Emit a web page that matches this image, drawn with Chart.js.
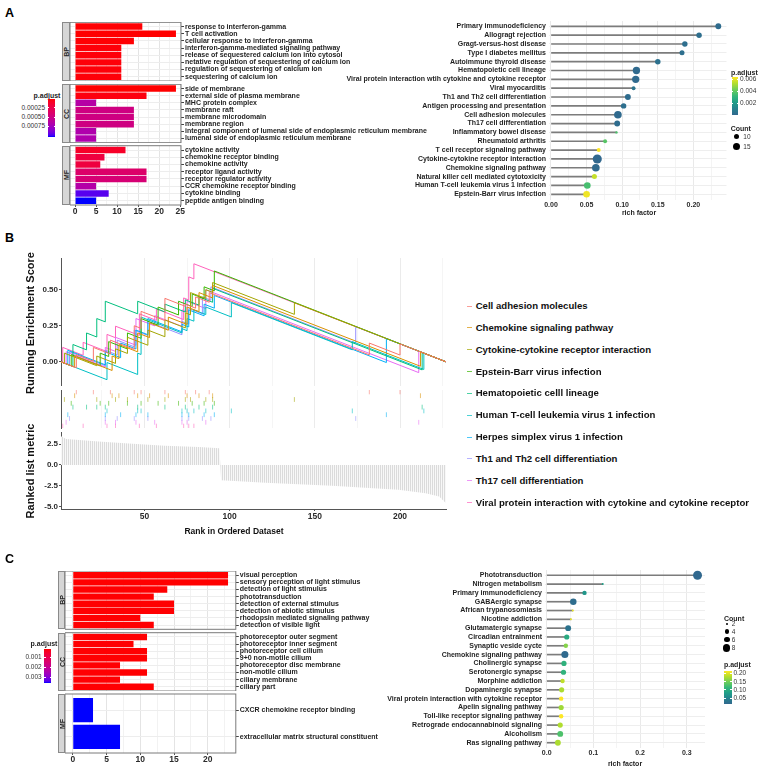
<!DOCTYPE html>
<html>
<head>
<meta charset="utf-8">
<script src="https://cdn.jsdelivr.net/npm/chart.js@4.4.1/dist/chart.umd.min.js"></script>
<style>
  html, body { margin: 0; padding: 0; background: #fff; }
  #fig { position: relative; width: 758px; height: 767px; overflow: hidden; font-family: "Liberation Sans", Arial, sans-serif; color: #1f1f1f; }
  .t { position: absolute; white-space: nowrap; line-height: 1; }
</style>
</head>
<body>
<div id="fig"></div>
<script>
// =============================
// DATA : panel A, GO enrichment (bar count, p.adjust)
// =============================
const aBpTerms = ["response to interferon-gamma", "T cell activation", "cellular response to interferon-gamma",
  "interferon-gamma-mediated signaling pathway", "release of sequestered calcium ion into cytosol",
  "netative regulation of sequestering of calcium ion", "regulation of sequestering of calcium ion",
  "sequestering of calcium ion"];
const aBpCount = [16, 24, 14, 11, 11, 11, 11, 11];
const aBpPadj = [0.00001, 0.000005, 0.00001, 0.00002, 0.00002, 0.00002, 0.00002, 0.00002];

const aCcTerms = ["side of membrane", "external side of plasma membrane", "MHC protein complex", "membrane raft",
  "membrane microdomain", "membrane region", "integral component of lumenal side of endoplasmic reticulum membrane",
  "lumenal side of endoplasmic reticulum membrane"];
const aCcCount = [24, 17, 5, 14, 14, 14, 5, 5];
const aCcPadj = [0.000005, 0.00003, 0.00065, 0.00049, 0.00049, 0.00049, 0.00068, 0.00068];

const aMfTerms = ["cytokine activity", "chemokine receptor binding", "chemokine activity", "receptor ligand activity",
  "receptor regulator activity", "CCR chemokine receptor binding", "cytokine binding", "peptide antigen binding"];
const aMfCount = [12, 7, 6, 17, 17, 5, 8, 5];
const aMfPadj = [0.0001, 0.00019, 0.00019, 0.00038, 0.00043, 0.00066, 0.00097, 0.00104];

// panel A, KEGG lollipop
const keggATerms = ["Primary immunodeficiency", "Allogragt rejection", "Gragt-versus-host disease",
  "Type I diabetes mellitus", "Autoimmune thyroid disease", "Hematopoietic cell lineage",
  "Viral protein interaction wtih cytokine and cytokine receptor", "Viral myocarditis",
  "Th1 and Th2 cell differentiation", "Antigen processing and presentation", "Cell adhesion molecules",
  "Th17 cell differentiation", "Inflammatory bowel disease", "Rheumatoid arthritis",
  "T cell receptor signaling pathway", "Cytokine-cytokine receptor interaction", "Chemokine signaling pathway",
  "Natural killer cell mediated cytotoxicity", "Human T-cell leukemia virus 1 infection", "Epstein-Barr virus infection"];
const keggARich = [0.235, 0.208, 0.188, 0.184, 0.150, 0.120, 0.119, 0.116, 0.108, 0.102,
  0.094, 0.093, 0.092, 0.076, 0.067, 0.065, 0.063, 0.061, 0.051, 0.050];
const keggACount = [12, 11, 11, 10, 11, 16, 16, 8, 12, 11, 17, 12, 6, 8, 8, 22, 17, 10, 14, 14];
const keggAPadj = [0.0002, 0.0003, 0.0003, 0.0003, 0.0004, 0.0001, 0.0001, 0.0005, 0.0002, 0.0003,
  0.0001, 0.0002, 0.0036, 0.0038, 0.0063, 0.00002, 0.0001, 0.0055, 0.0035, 0.0061];

// =============================
// DATA : panel B, GSEA
// =============================
const gseaSets = ["Cell adhesion molecules", "Chemokine signaling pathway", "Cytokine-cytokine receptor interaction",
  "Epstein-Barr virus infection", "Hematopoietic celll lineage", "Human T-cell leukemia virus 1 infection",
  "Herpes simplex virus 1 infection", "Th1 and Th2 cell differentiation", "Th17 cell differentiation",
  "Viral protein interaction with cytokine and cytokine receptor"];

// running enrichment score, [rank, score] corners of each step line
const esCellAdhesion = [[1,0],[10,-0.041],[10,0.05],[20,0.004],[20,0.1],[30,0.054],[30,0.15],[44,0.086],[44,0.25],[48,0.232],[48,0.35],[62,0.286],[62,0.44],[74,0.385],[74,0.4],[80,0.372],[80,0.45],[88,0.413],[88,0.48],[182,0.048],[182,0.13],[200,0.047],[200,0.124],[227,0]];
const esChemokine = [[1,0],[9,-0.037],[9,0.04],[31,-0.06],[31,0.04],[35,0.022],[35,0.12],[46,0.069],[46,0.2],[53,0.168],[53,0.27],[64,0.219],[64,0.31],[75,0.259],[75,0.38],[82,0.348],[82,0.48],[90,0.443],[90,0.53],[212,-0.031],[212,0.069],[227,0]];
const esCytokine = [[1,0],[3,-0.01],[3,0.06],[22,-0.027],[22,0.04],[33,-0.011],[33,0.09],[40,0.058],[40,0.17],[52,0.115],[52,0.22],[62,0.174],[62,0.29],[74,0.235],[74,0.34],[77,0.326],[77,0.48],[86,0.439],[86,0.5],[90,0.482],[90,0.55],[138,0.329],[138,0.41],[227,0]];
const esEbv = [[1,0],[7,-0.028],[7,0.05],[24,-0.028],[24,0.06],[29,0.037],[29,0.14],[40,0.089],[40,0.2],[48,0.163],[48,0.3],[58,0.254],[58,0.38],[70,0.325],[70,0.42],[78,0.383],[78,0.47],[85,0.438],[85,0.52],[91,0.492],[91,0.63],[227,0]];
const esHematopoietic = [[1,0],[8,-0.032],[8,0.12],[16,0.083],[16,0.2],[22,0.172],[22,0.3],[27,0.277],[27,0.42],[46,0.333],[46,0.42],[62,0.346],[62,0.4],[74,0.345],[74,0.43],[82,0.393],[82,0.45],[90,0.413],[90,0.51],[213,-0.056],[213,0.064],[227,0]];
const esHtlv = [[1,0],[28,-0.124],[28,-0.005],[46,-0.088],[46,0.06],[48,0.051],[48,0.31],[72,0.2],[72,0.23],[75,0.216],[75,0.3],[79,0.282],[79,0.36],[86,0.328],[86,0.38],[101,0.311],[101,0.41],[172,0.083],[172,0.14],[214,-0.053],[214,0.06],[227,0]];
const esHerpes = [[1,0],[5,-0.018],[5,0.08],[27,-0.021],[27,0.07],[36,0.029],[36,0.13],[45,0.089],[45,0.22],[52,0.188],[52,0.3],[72,0.208],[72,0.26],[76,0.242],[76,0.36],[85,0.319],[85,0.4],[91,0.372],[91,0.46],[192,-0.005],[192,0.161],[227,0]];
const esTh1Th2 = [[1,0],[6,-0.023],[6,0.07],[27,-0.027],[27,0.08],[34,0.048],[34,0.15],[44,0.104],[44,0.22],[52,0.183],[52,0.28],[72,0.188],[72,0.28],[76,0.262],[76,0.37],[84,0.333],[84,0.45],[89,0.427],[89,0.52],[174,0.129],[174,0.244],[227,0]];
const esTh17 = [[1,0],[4,-0.014],[4,0.07],[27,-0.036],[27,0.1],[33,0.072],[33,0.17],[45,0.115],[45,0.3],[56,0.249],[56,0.32],[72,0.246],[72,0.36],[75,0.346],[75,0.42],[86,0.369],[86,0.5],[211,-0.075],[211,0.074],[227,0]];
const esViral = [[1,0],[2,0],[2,0.10],[14,0.045],[14,0.135],[28,0.071],[28,0.19],[33,0.167],[33,0.247],[47,0.183],[47,0.333],[57,0.287],[57,0.367],[73,0.293],[73,0.443],[76,0.429],[76,0.589],[79,0.575],[79,0.68],[227,0]];

// ranked list metric, breakpoints
const metricRank = [1, 4, 23, 43, 62, 82, 94, 95, 121, 160, 199, 215, 223, 227];
const metricValue = [3.45, 3.1, 2.8, 2.55, 2.3, 2.15, 2.0, -1.85, -2.15, -2.5, -3.0, -3.4, -3.8, -4.6];

// =============================
// DATA : panel C
// =============================
const cBpTerms = ["visual perception", "sensory perception of light stimulus", "detection of light stimulus",
  "phototransduction", "detection of external stimulus", "detection of abiotic stimulus",
  "rhodopsin mediated signaling pathway", "detection of visible light"];
const cBpCount = [23, 23, 14, 12, 15, 15, 10, 12];
const cBpPadj = [0.00017, 0.00017, 0.00018, 0.00018, 0.00018, 0.00018, 0.00018, 0.00018];

const cCcTerms = ["photoreceptor outer segment", "photoreceptor inner segment", "photoreceptor cell cilium",
  "9+0 non-motile cilium", "photoreceptor disc membrane", "non-motile cilium", "ciliary membrane", "ciliary part"];
const cCcCount = [11, 9, 11, 11, 7, 11, 7, 12];
const cCcPadj = [0.00018, 0.00018, 0.00018, 0.00018, 0.00018, 0.00018, 0.00018, 0.00018];

const cMfTerms = ["CXCR chemokine receptor binding", "extracellular matrix structural constituent"];
const cMfCount = [3, 7];
const cMfPadj = [0.00354, 0.00354];

const keggCTerms = ["Phototransduction", "Nitrogen metabolism", "Primary immunodeficiency", "GABAergic synapse",
  "African trypanosomiasis", "Nicotine addiction", "Glutamatergic synapse", "Circadian entrainment",
  "Synaptic veside cycte", "Chemokine signaling pathway", "Cholinergic synapse", "Serotonergic synapse",
  "Morphine addiction", "Dopaminergic synapse", "Viral protein interaction with cytokine receptor",
  "Apelin signaling pathway", "Toll-like receptor signaling pathway", "Retrograde endocannabinoid signaling",
  "Alcoholism", "Ras signaling pathway"];
const keggCRich = [0.323, 0.120, 0.081, 0.057, 0.056, 0.052, 0.046, 0.043, 0.041, 0.039,
  0.037, 0.036, 0.034, 0.032, 0.031, 0.031, 0.031, 0.029, 0.029, 0.024];
const keggCCount = [12, 2, 4, 7, 2, 2, 6, 5, 4, 8, 5, 5, 4, 5, 4, 5, 4, 5, 6, 6];
const keggCPadj = [0.016, 0.085, 0.073, 0.022, 0.205, 0.205, 0.03, 0.098, 0.16, 0.018,
  0.108, 0.11, 0.187, 0.178, 0.215, 0.172, 0.215, 0.18, 0.13, 0.178];

// =============================
// STYLE
// =============================
const hue = ["#F8766D", "#D89000", "#A3A500", "#39B600", "#00BF7D", "#00BFC4", "#00B0F6", "#9590FF", "#E76BF3", "#FF62BC"];
const esPaths = [esCellAdhesion, esChemokine, esCytokine, esEbv, esHematopoietic, esHtlv, esHerpes, esTh1Th2, esTh17, esViral];

const fig = document.getElementById("fig");
Chart.defaults.font.family = '"Liberation Sans", Arial, sans-serif';
Chart.defaults.color = "#222";

// colour ramps
function hexRgb(h) { return [1, 3, 5].map(i => parseInt(h.substr(i, 2), 16)); }
function toLab(h) {
  const [r, g, b] = hexRgb(h).map(c => { c /= 255; return c <= 0.04045 ? c / 12.92 : Math.pow((c + 0.055) / 1.055, 2.4); });
  const X = (0.4124 * r + 0.3576 * g + 0.1805 * b) / 0.95047;
  const Y = 0.2126 * r + 0.7152 * g + 0.0722 * b;
  const Z = (0.0193 * r + 0.1192 * g + 0.9505 * b) / 1.08883;
  const f = t => t > 0.008856 ? Math.cbrt(t) : 7.787 * t + 16 / 116;
  return [116 * f(Y) - 16, 500 * (f(X) - f(Y)), 200 * (f(Y) - f(Z))];
}
function fromLab(L, a, b) {
  const fy = (L + 16) / 116, fx = fy + a / 500, fz = fy - b / 200;
  const fi = t => t * t * t > 0.008856 ? t * t * t : (t - 16 / 116) / 7.787;
  const X = 0.95047 * fi(fx), Y = fi(fy), Z = 1.08883 * fi(fz);
  const lin = [3.2406 * X - 1.5372 * Y - 0.4986 * Z, -0.9689 * X + 1.8758 * Y + 0.0415 * Z, 0.0557 * X - 0.2040 * Y + 1.0570 * Z];
  return "rgb(" + lin.map(c => {
    const v = c <= 0.0031308 ? 12.92 * c : 1.055 * Math.pow(c, 1 / 2.4) - 0.055;
    return Math.round(Math.min(1, Math.max(0, v)) * 255);
  }).join(",") + ")";
}
const labRed = toLab("#ff0000"), labBlue = toLab("#0000ff");
function redBlue(t) {
  t = Math.min(1, Math.max(0, t));
  return fromLab(...labRed.map((v, i) => v + (labBlue[i] - v) * t));
}
const virStops = ["#31688E", "#26828E", "#1F9E89", "#35B779", "#6DCD59", "#B4DE2C", "#FDE725"].map(hexRgb);
function viridis(t) {
  t = Math.min(1, Math.max(0, t));
  const s = t * (virStops.length - 1);
  const i = Math.min(Math.floor(s), virStops.length - 2), f = s - i;
  const a = virStops[i], b = virStops[i + 1];
  return "rgb(" + a.map((v, k) => Math.round(v + (b[k] - v) * f)).join(",") + ")";
}
function rangeOf(arrs) {
  const all = [].concat(...arrs);
  return [Math.min(...all), Math.max(...all)];
}
function withAlpha(hex, a) {
  return "rgba(" + hexRgb(hex).join(",") + "," + a + ")";
}

// =============================
// HELPERS
// =============================
function text(x, y, str, o = {}) {
  const d = document.createElement("div");
  d.className = "t";
  d.textContent = str;
  const ax = o.align === "right" ? "-100%" : o.align === "center" ? "-50%" : "0";
  d.style.left = x + "px";
  d.style.top = y + "px";
  d.style.fontSize = (o.size || 7) + "px";
  d.style.fontWeight = o.bold === false ? "normal" : "bold";
  d.style.color = o.color || "#1f1f1f";
  d.style.transform = "translate(" + ax + ",-50%)" + (o.rot ? " rotate(" + o.rot + "deg)" : "");
  fig.appendChild(d);
}

function rect(x, y, w, h, css) {
  const d = document.createElement("div");
  d.style.cssText = "position:absolute;left:" + x + "px;top:" + y + "px;width:" + w + "px;height:" + h + "px;" + css;
  fig.appendChild(d);
  return d;
}

function strip(x, y, w, h, label) {
  rect(x, y, w, h, "background:#d6d6d6;box-sizing:border-box;border:1px solid #8a8a8a;");
  text(x + w / 2, y + h / 2, label, { size: 7, align: "center", rot: -90, color: "#262626" });
}

// gradient legend: colourAt(f) gives colour at fraction f from the top
function colorbar(x, y, w, h, colourAt, ticks, labelX, labelAlign) {
  const stops = [];
  for (let i = 0; i <= 24; i++) stops.push(colourAt(i / 24) + " " + (i / 24 * 100).toFixed(1) + "%");
  rect(x, y, w, h, "background:linear-gradient(to bottom," + stops.join(",") + ");");
  ticks.forEach(([f, lab]) => {
    const ty = y + f * h;
    rect(x, ty - 0.5, 1.5, 1, "background:#fff;");
    rect(x + w - 1.5, ty - 0.5, 1.5, 1, "background:#fff;");
    text(labelX, ty, lab, { size: 6.5, bold: false, align: labelAlign, color: "#333" });
  });
}

function dot(x, y, r, colour) {
  rect(x - r, y - r, 2 * r, 2 * r, "border-radius:50%;background:" + colour + ";");
}

const panelBox = {
  id: "panelBox",
  afterDraw(chart, args, opts) {
    if (!opts || !opts.color) return;
    const a = chart.chartArea, c = chart.ctx;
    c.save();
    c.strokeStyle = opts.color;
    c.lineWidth = 1;
    c.strokeRect(a.left, a.top, a.right - a.left, a.bottom - a.top);
    c.restore();
  }
};
Chart.register(panelBox);

// canvas at box, chart area exactly at area ([x, y, w, h] in page pixels)
function makeChart(box, area, cfg) {
  const cv = document.createElement("canvas");
  cv.width = box[2];
  cv.height = box[3];
  cv.style.cssText = "position:absolute;left:" + box[0] + "px;top:" + box[1] + "px;width:" + box[2] + "px;height:" + box[3] + "px";
  fig.appendChild(cv);
  const side = {
    left: area[0] - box[0],
    top: area[1] - box[1],
    right: box[0] + box[2] - area[0] - area[2],
    bottom: box[1] + box[3] - area[1] - area[3]
  };
  const pad = Object.assign({}, side);
  Object.values(cfg.options.scales).forEach(s => {
    if (s.display === false) return;
    const pos = s.position;
    pad[pos] = 0;
    s.afterFit = sc => {
      if (sc.isHorizontal()) sc.height = side[pos]; else sc.width = side[pos];
      sc.paddingLeft = sc.paddingRight = sc.paddingTop = sc.paddingBottom = 0;
    };
  });
  cfg.options.layout = { padding: pad };
  cfg.options.responsive = false;
  cfg.options.maintainAspectRatio = false;
  cfg.options.animation = false;
  cfg.options.events = [];
  cfg.options.plugins = Object.assign({ legend: { display: false }, tooltip: { enabled: false } }, cfg.options.plugins || {});
  return new Chart(cv, cfg);
}

const isMul = (v, m) => Math.abs(v / m - Math.round(v / m)) < 1e-6;

// =============================
// GO FACET (horizontal bars)
// =============================
function goFacet(box, area, terms, counts, padj, fillOf, xMin, xMax, showX) {
  return makeChart(box, area, {
    type: "bar",
    data: {
      datasets: [{
        data: counts.map((v, i) => ({ x: v, y: i })),
        backgroundColor: padj.map(fillOf),
        barPercentage: 0.9,
        categoryPercentage: 1,
        borderWidth: 0
      }]
    },
    options: {
      indexAxis: "y",
      scales: {
        x: {
          type: "linear", position: "bottom", min: xMin, max: xMax, offset: false,
          ticks: {
            display: showX, stepSize: 2.5, includeBounds: false, autoSkip: false, maxRotation: 0, padding: 0,
            font: { size: 8.5, weight: "bold" }, color: "#2b2b2b",
            callback: v => (isMul(v, 5) ? String(v) : "")
          },
          grid: {
            color: c => (c.tick && isMul(c.tick.value, 5) ? "#e4e4e4" : "#f2f2f2"),
            drawTicks: showX, tickLength: 2,
            tickColor: c => (c.tick && isMul(c.tick.value, 5) ? "#555" : "rgba(0,0,0,0)")
          },
          border: { display: false }
        },
        y: {
          type: "linear", position: "right", reverse: true, min: -0.6, max: terms.length - 0.4, offset: false,
          ticks: {
            stepSize: 1, includeBounds: false, autoSkip: false, padding: 1,
            font: { size: 7, weight: "bold" }, color: "#1f1f1f",
            callback: v => terms[Math.round(v)]
          },
          grid: { color: "#ededed", offset: false, drawTicks: true, tickLength: 3, tickColor: "#444" },
          border: { display: false }
        }
      },
      plugins: { panelBox: { color: "#7a7a7a" } }
    }
  });
}

// =============================
// KEGG LOLLIPOP
// =============================
function lollipop(box, area, terms, rich, count, padj, xMin, xMax, minor, major, dec, radiusOf, colourOf) {
  const pts = rich.map((v, i) => ({ x: v, y: i }));
  return makeChart(box, area, {
    type: "bar",
    data: {
      datasets: [
        {
          type: "scatter", order: 0, data: pts,
          pointRadius: count.map(radiusOf),
          pointBackgroundColor: padj.map(colourOf),
          pointBorderWidth: 0
        },
        {
          type: "bar", order: 1, data: pts,
          backgroundColor: "#7c7c7c", barThickness: 1, borderWidth: 0
        }
      ]
    },
    options: {
      indexAxis: "y",
      scales: {
        x: {
          type: "linear", position: "bottom", min: xMin, max: xMax, offset: false,
          ticks: {
            stepSize: minor, includeBounds: false, autoSkip: false, maxRotation: 0, padding: 1,
            font: { size: 7, weight: "bold" }, color: "#2b2b2b",
            callback: v => (isMul(v, major) ? v.toFixed(dec) : "")
          },
          grid: { color: c => (c.tick && isMul(c.tick.value, major) ? "#e9e9e9" : "#f4f4f4"), drawTicks: false },
          border: { display: false }
        },
        y: {
          type: "linear", position: "left", reverse: true, min: -0.6, max: terms.length - 0.4, offset: false,
          ticks: {
            stepSize: 1, includeBounds: false, autoSkip: false, padding: 3,
            font: { size: 7, weight: "bold" }, color: "#1f1f1f",
            callback: v => terms[Math.round(v)]
          },
          grid: { color: "#eeeeee", offset: false, drawTicks: false },
          border: { display: false }
        }
      }
    }
  });
}

// =============================
// PANEL A
// =============================
text(5, 12.5, "A", { size: 12.5, color: "#000" });

const aRange = rangeOf([aBpPadj, aCcPadj, aMfPadj]);
const aFill = p => redBlue((p - aRange[0]) / (aRange[1] - aRange[0]));

goFacet([70, 22, 390, 59], [70, 22.3, 111, 58.7], aBpTerms, aBpCount, aBpPadj, aFill, -1.2, 25.2, false);
goFacet([70, 84, 390, 59], [70, 84.3, 111, 58.4], aCcTerms, aCcCount, aCcPadj, aFill, -1.2, 25.2, false);
goFacet([70, 145, 390, 76], [70, 145.7, 111, 59.3], aMfTerms, aMfCount, aMfPadj, aFill, -1.2, 25.2, true);
strip(62.3, 22.3, 7.7, 58.7, "BP");
strip(62.3, 84.3, 7.7, 58.4, "CC");
strip(62.3, 145.7, 7.7, 59.3, "MF");

text(47, 94.5, "p.adjust", { size: 7, align: "center" });
colorbar(47.7, 98.7, 7.6, 38.3, f => redBlue(f),
  [[0.00025, "0.00025"], [0.0005, "0.00050"], [0.00075, "0.00075"]].map(([v, l]) => [(v - aRange[0]) / (aRange[1] - aRange[0]), l]),
  45, "right");

const kaRange = rangeOf([keggAPadj]);
const kaColour = p => viridis((p - kaRange[0]) / (kaRange[1] - kaRange[0]));
const rA = c => Math.sqrt(Math.max(1, 6.25 + 1.2 * (c - 10)));
lollipop([330, 15, 402, 215], [549, 21, 177.5, 178.6], keggATerms, keggARich, keggACount, keggAPadj,
  -0.0028, 0.2465, 0.025, 0.05, 2, rA, kaColour);
text(639, 212, "rich factor", { size: 7, align: "center" });

text(731, 72, "p.adjust", { size: 7 });
colorbar(731.7, 77.3, 6.6, 37.7, f => viridis(1 - f),
  [[0.002, "0.002"], [0.004, "0.004"], [0.006, "0.006"]].map(([v, l]) => [1 - (v - kaRange[0]) / (kaRange[1] - kaRange[0]), l]),
  740, "left");
text(730.7, 128.3, "Count", { size: 7 });
[[10, 136.7], [15, 146.7]].forEach(([c, y]) => { dot(736.7, y, rA(c), "#000"); text(743.3, y, String(c), { size: 6.5, bold: false, color: "#333" }); });

// =============================
// PANEL B
// =============================
text(5, 237.5, "B", { size: 12.5, color: "#000" });

function hitRanks(path) {
  const out = [];
  for (let i = 1; i < path.length; i++) {
    if (path[i][0] === path[i - 1][0] && path[i][1] > path[i - 1][1]) out.push(path[i][0]);
  }
  return out;
}

const rankGrid = c => (!c.tick ? "rgba(0,0,0,0)" : isMul(c.tick.value, 50) ? "#ebebeb" : "#f5f5f5");

// running enrichment score
makeChart([0, 250, 452, 136], [61, 258, 385, 127.6], {
  type: "line",
  data: {
    datasets: esPaths.map((p, k) => ({
      data: p.map(q => ({ x: q[0], y: q[1] })),
      borderColor: hue[k], borderWidth: 1, pointRadius: 0, tension: 0, fill: false
    }))
  },
  options: {
    scales: {
      x: {
        type: "linear", position: "bottom", min: 1, max: 227,
        ticks: { display: false, stepSize: 25, includeBounds: false },
        grid: { color: rankGrid, drawTicks: false },
        border: { display: false }
      },
      y: {
        type: "linear", position: "left", min: -0.165, max: 0.72,
        ticks: { stepSize: 0.25, includeBounds: false, padding: 1, font: { size: 8, weight: "bold" }, color: "#2b2b2b",
                 callback: v => v.toFixed(2) },
        grid: { drawOnChartArea: false, drawTicks: true, tickLength: 2, tickColor: "#555" },
        border: { display: true, color: "#555" }
      }
    }
  }
});

// hit rug
makeChart([0, 385, 452, 48], [61, 385.6, 385, 46.4], {
  type: "scatter",
  data: {
    datasets: esPaths.map((p, k) => ({
      data: hitRanks(p).map(r => ({ x: r, y: k })),
      pointStyle: "line", pointRotation: 90, pointRadius: 2.4,
      pointBorderColor: withAlpha(hue[k], 0.55), pointBorderWidth: 1
    }))
  },
  options: {
    scales: {
      x: {
        type: "linear", position: "bottom", min: 1, max: 227,
        ticks: { display: false, stepSize: 25, includeBounds: false },
        grid: { color: rankGrid, drawTicks: false },
        border: { display: false }
      },
      y: {
        type: "linear", position: "left", min: -0.5, max: 9.5, reverse: true,
        ticks: { display: false },
        grid: { display: false },
        border: { display: true, color: "#555" }
      }
    }
  }
});

// ranked list metric
const stripeCv = document.createElement("canvas");
stripeCv.width = 2; stripeCv.height = 1;
const sctx = stripeCv.getContext("2d");
sctx.fillStyle = "#f8f8f8"; sctx.fillRect(0, 0, 2, 1);
sctx.fillStyle = "#dbdbdb"; sctx.fillRect(0, 0, 1, 1);
const stripe = sctx.createPattern(stripeCv, "repeat");

makeChart([0, 430, 452, 96], [61, 432, 385, 77], {
  type: "line",
  data: {
    datasets: [{
      data: metricRank.map((r, i) => ({ x: r, y: metricValue[i] })),
      borderColor: "rgba(0,0,0,0)", borderWidth: 0, pointRadius: 0, tension: 0,
      fill: "origin", backgroundColor: stripe
    }]
  },
  options: {
    scales: {
      x: {
        type: "linear", position: "bottom", min: 1, max: 227,
        ticks: { stepSize: 25, includeBounds: false, autoSkip: false, maxRotation: 0, padding: 1,
                 font: { size: 8.5, weight: "bold" }, color: "#2b2b2b",
                 callback: v => (isMul(v, 50) ? String(v) : "") },
        grid: { drawOnChartArea: false, drawTicks: true, tickLength: 2,
                tickColor: c => (c.tick && isMul(c.tick.value, 50) ? "#555" : "rgba(0,0,0,0)") },
        border: { display: true, color: "#555" }
      },
      y: {
        type: "linear", position: "left", min: -5.3, max: 3.95,
        ticks: { stepSize: 2.5, includeBounds: false, padding: 1, font: { size: 8, weight: "bold" }, color: "#2b2b2b",
                 callback: v => v.toFixed(1) },
        grid: { drawOnChartArea: false, drawTicks: true, tickLength: 2, tickColor: "#555" },
        border: { display: true, color: "#555" }
      }
    }
  }
});

text(30, 323, "Running Enrichment Score", { size: 11, align: "center", rot: -90, color: "#111" });
text(30, 471, "Ranked list metric", { size: 11, align: "center", rot: -90, color: "#111" });
text(234, 531, "Rank in Ordered Dataset", { size: 8.5, align: "center", color: "#111" });

gseaSets.forEach((name, k) => {
  const y = 306 + k * 21.85;
  rect(467, y - 0.5, 5, 1, "background:" + withAlpha(hue[k], 0.7) + ";");
  text(475.7, y, name, { size: 9.6, color: "#111" });
});

// =============================
// PANEL C
// =============================
text(5, 559, "C", { size: 12.5, color: "#000" });

const cRange = rangeOf([cBpPadj, cCcPadj, cMfPadj]);
const cFill = p => redBlue((p - cRange[0]) / (cRange[1] - cRange[0]));

goFacet([65, 571, 330, 59], [65, 571, 170.8, 58.3], cBpTerms, cBpCount, cBpPadj, cFill, -1.15, 24.15, false);
goFacet([65, 632, 330, 59], [65, 632.7, 170.8, 58.3], cCcTerms, cCcCount, cCcPadj, cFill, -1.15, 24.15, false);
goFacet([65, 693, 330, 74], [65, 694, 170.8, 59], cMfTerms, cMfCount, cMfPadj, cFill, -1.15, 24.15, true);
strip(58.3, 571, 6.7, 58.3, "BP");
strip(58.3, 632.7, 6.7, 58.3, "CC");
strip(58.3, 694, 6.7, 59, "MF");

text(44, 643.3, "p.adjust", { size: 7, align: "center" });
colorbar(44, 649, 7, 33.7, f => redBlue(f),
  [[0.001, "0.001"], [0.002, "0.002"], [0.003, "0.003"]].map(([v, l]) => [(v - cRange[0]) / (cRange[1] - cRange[0]), l]),
  41.7, "right");

const kcRange = rangeOf([keggCPadj]);
const kcColour = p => viridis((p - kcRange[0]) / (kcRange[1] - kcRange[0]));
const rC = c => Math.sqrt(1 + 1.9 * (c - 2));
lollipop([330, 565, 402, 202], [545, 570, 160, 178], keggCTerms, keggCRich, keggCCount, keggCPadj,
  -0.0036, 0.339, 0.05, 0.1, 1, rC, kcColour);
text(625, 763, "rich factor", { size: 7, align: "center" });

text(724, 617.7, "Count", { size: 7 });
[[2, 624], [4, 631.5], [6, 639.5], [8, 648]].forEach(([c, y]) => { dot(726.7, y, rC(c), "#000"); text(731.7, y, String(c), { size: 6.5, bold: false, color: "#333" }); });
text(724, 664.3, "p.adjust", { size: 7 });
colorbar(724.3, 670.7, 7.4, 33.3, f => viridis(1 - f),
  [[0.05, "0.05"], [0.10, "0.10"], [0.15, "0.15"], [0.20, "0.20"]].map(([v, l]) => [1 - (v - kcRange[0]) / (kcRange[1] - kcRange[0]), l]),
  733.5, "left");
</script>
</body>
</html>
